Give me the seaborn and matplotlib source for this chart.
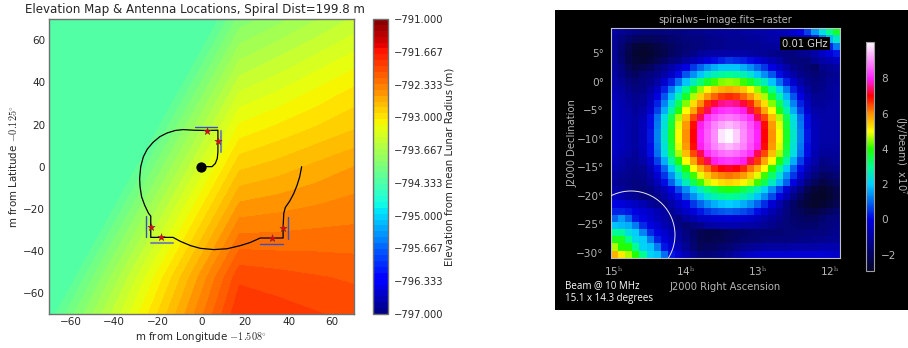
import numpy as np
import pandas as pd
import matplotlib
matplotlib.use("Agg")
import matplotlib.pyplot as plt
from matplotlib.colors import LinearSegmentedColormap
from matplotlib.patches import Ellipse, Rectangle
import seaborn as sns

W, H = 908, 348

# ---- left panel data ----
elev_y = [-70, -52.5, -35, -17.5, 0, 17.5, 35, 52.5, 70]
flat_edge_x = [-69.9, -60.6, -51.25, -41.9, -32.5, -23.1, -13.75, -4.4, 5]
elev_right_x = [17.5, 35, 52.5, 70]
elev_flat = -794.33
elevation_right = [
    [-791.85, -791.90, -791.95, -792.00],
    [-791.99, -792.03, -792.07, -792.10],
    [-792.27, -792.27, -792.26, -792.26],
    [-792.55, -792.50, -792.45, -792.40],
    [-792.83, -792.75, -792.65, -792.56],
    [-793.11, -793.00, -792.90, -792.80],
    [-793.39, -793.27, -793.13, -793.00],
    [-793.67, -793.53, -793.39, -793.25],
    [-793.95, -793.80, -793.65, -793.50],
]
spiral_x = [0, 4.9, 6.4, 7.3, 7.6, 7.6, 2, -3, -8.4, -11.9, -15.7, -19.1, -22.2, -24.8, -26.6, -27.8, -28.3,
            -28.1, -27.4, -26, -24.2, -23.2, -23.2, -13, -9.6, -5, -0.5, 5.7, 11.8, 17.9, 22.5, 27, 37.5,
            37.5, 37.8, 38.5, 40.5, 42.4, 43.9, 45.1, 46]
spiral_y = [0, 0, 1.5, 3.9, 7, 17.3, 17.2, 17.3, 17.6, 17.2, 16, 14.2, 11.5, 8.3, 4.7, 0, -5.6,
            -9.6, -14.3, -18.3, -22.2, -23.5, -33.6, -33.6, -35.5, -37.5, -38.8, -39.4, -39, -37.5, -36, -33.9, -33.9,
            -28.5, -22.2, -19.4, -16.4, -12.7, -8.8, -4.8, 0]
ant_x = [2.5, 7.7, -23.2, -18.3, 32.5, 37.6]
ant_y = [17, 12, -28.5, -33.6, -34, -29]
blue_segs = [([-3, 7.3], [19, 19]), ([-25.5, -25.5], [-23.5, -33.5]),
             ([27, 37.5], [-36.6, -36.6]), ([39.7, 39.7], [-24, -34.5])]
gray_segs = [([9, 9], [7, 17]), ([-23, -13], [-36.2, -36.2])]
elev_ticks = [-797.0, -796.333, -795.667, -795.0, -794.333, -793.667, -793.0, -792.333, -791.667, -791.0]
axis_ticks = [-60, -40, -20, 0, 20, 40, 60]

# ---- right panel data (J2000 raster, units of 10^7 Jy/beam) ----
raster = [
 [-1.0,-1.2,-1.3,-1.4,-1.5,-1.6,-1.6,-1.6,-1.5,-1.5,-1.4,-1.3,-1.3,-1.2,-1.2,-1.1,-1.1,-1.1,-1.0,-1.0,-0.9,-0.9,-0.8,-0.7,-0.6,-0.3,0.0,0.6,1.5,2.3,3.0,3.7],
 [-1.2,-1.5,-1.8,-2.0,-2.1,-2.1,-2.0,-1.9,-1.8,-1.7,-1.6,-1.5,-1.5,-1.4,-1.3,-1.3,-1.2,-1.2,-1.2,-1.1,-1.1,-1.0,-0.9,-0.9,-0.8,-0.7,-0.6,-0.3,0.3,1.2,1.8,2.5],
 [-1.2,-1.7,-2.2,-2.6,-2.7,-2.6,-2.4,-2.2,-2.0,-1.8,-1.7,-1.6,-1.5,-1.4,-1.3,-1.3,-1.2,-1.2,-1.2,-1.2,-1.2,-1.1,-1.1,-1.0,-1.0,-1.0,-0.9,-0.8,-0.6,-0.3,0.3,1.2],
 [-1.2,-1.8,-2.3,-2.7,-2.8,-2.7,-2.5,-2.3,-2.0,-1.8,-1.6,-1.4,-1.1,-1.0,-0.9,-0.9,-0.9,-0.9,-0.9,-1.0,-1.1,-1.2,-1.3,-1.4,-1.5,-1.5,-1.3,-1.2,-0.9,-0.4,-0.1,0.2],
 [-1.2,-1.7,-2.3,-2.6,-2.7,-2.5,-2.2,-1.9,-1.6,-1.4,-1.0,-0.7,-0.4,-0.1,0.1,0.3,0.5,0.4,0.3,0.1,-0.1,-0.4,-0.7,-1.0,-1.4,-1.6,-1.6,-1.6,-1.2,-0.9,-0.7,-0.5],
 [-1.1,-1.5,-2.1,-2.4,-2.2,-2.0,-1.6,-1.3,-0.9,-0.4,0.0,0.5,1.0,1.4,1.7,1.9,1.9,1.9,1.7,1.4,1.0,0.5,0.0,-0.4,-0.9,-1.3,-1.5,-1.7,-1.9,-1.3,-1.2,-1.0],
 [-1.0,-1.4,-1.8,-2.0,-1.7,-1.5,-1.3,-0.9,-0.4,0.1,0.8,1.4,1.9,2.4,2.7,2.9,3.0,2.9,2.7,2.4,1.9,1.4,0.8,0.1,-0.4,-0.9,-1.3,-1.5,-1.7,-1.5,-1.3,-1.2],
 [-0.9,-1.2,-1.5,-1.7,-1.5,-1.3,-0.9,-0.3,0.3,1.1,1.9,2.6,3.2,3.7,4.1,4.4,4.5,4.4,4.1,3.7,3.2,2.6,1.9,1.1,0.3,-0.3,-0.9,-1.3,-1.5,-1.4,-1.2,-1.1],
 [-0.7,-1.0,-1.3,-1.5,-1.4,-1.0,-0.4,0.3,1.2,2.1,3.0,3.8,4.5,5.1,5.5,5.7,5.8,5.7,5.5,5.1,4.5,3.8,3.0,2.1,1.2,0.3,-0.4,-1.0,-1.4,-1.3,-1.1,-1.0],
 [-0.6,-0.9,-1.1,-1.3,-1.2,-0.7,0.0,0.8,1.8,2.8,3.7,4.6,5.4,5.9,6.3,6.6,6.7,6.6,6.3,5.9,5.4,4.6,3.7,2.8,1.8,0.8,0.0,-0.7,-1.2,-1.2,-1.1,-1.0],
 [-0.5,-0.8,-1.0,-1.2,-1.1,-0.5,0.3,1.3,2.3,3.4,4.4,5.3,6.0,6.7,7.2,7.5,7.6,7.5,7.2,6.7,6.0,5.3,4.4,3.4,2.3,1.3,0.3,-0.5,-1.1,-1.1,-1.0,-0.9],
 [-0.5,-0.7,-0.9,-1.1,-0.9,-0.3,0.6,1.7,2.8,3.9,5.0,5.8,6.6,7.3,7.9,8.1,8.2,8.1,7.9,7.3,6.6,5.8,5.0,3.9,2.8,1.7,0.6,-0.3,-0.9,-1.0,-0.9,-0.9],
 [-0.4,-0.7,-0.8,-1.0,-0.7,0.1,1.1,2.3,3.4,4.6,5.6,6.5,7.3,8.1,8.4,8.7,8.8,8.7,8.4,8.1,7.3,6.5,5.6,4.6,3.4,2.3,1.1,0.1,-0.7,-0.9,-0.9,-0.9],
 [-0.4,-0.6,-0.8,-1.0,-0.6,0.1,1.2,2.4,3.6,4.9,5.9,6.9,7.9,8.4,8.9,9.2,9.4,9.2,8.9,8.4,7.9,6.9,5.9,4.9,3.6,2.4,1.2,0.1,-0.6,-0.9,-0.9,-0.9],
 [-0.4,-0.6,-0.8,-1.0,-0.6,0.2,1.3,2.5,3.7,5.0,6.0,7.0,8.0,8.5,9.0,9.8,10.0,9.6,9.0,8.5,8.0,7.0,6.0,5.0,3.7,2.5,1.3,0.2,-0.6,-0.9,-0.9,-0.9],
 [-0.4,-0.6,-0.8,-1.0,-0.6,0.2,1.3,2.5,3.7,5.0,6.0,7.0,8.0,8.5,9.0,9.8,10.0,9.6,9.0,8.5,8.0,7.0,6.0,5.0,3.7,2.5,1.3,0.2,-0.6,-0.9,-0.9,-0.9],
 [-0.4,-0.6,-0.8,-1.0,-0.6,0.1,1.2,2.4,3.6,4.9,5.9,6.9,7.9,8.4,8.9,9.2,9.4,9.2,8.9,8.4,7.9,6.9,5.9,4.9,3.6,2.4,1.2,0.1,-0.6,-1.0,-1.0,-1.0],
 [-0.5,-0.7,-0.9,-1.1,-0.7,0.1,1.1,2.3,3.4,4.6,5.6,6.5,7.3,8.1,8.4,8.7,8.8,8.7,8.4,8.1,7.3,6.5,5.6,4.6,3.4,2.3,1.1,0.1,-0.7,-1.1,-1.1,-1.1],
 [-0.6,-0.9,-1.1,-1.2,-0.9,-0.3,0.6,1.7,2.8,3.9,5.0,5.8,6.6,7.3,7.9,8.1,8.2,8.1,7.9,7.3,6.6,5.8,5.0,3.9,2.8,1.7,0.6,-0.3,-0.9,-1.4,-1.3,-1.2],
 [-0.8,-1.0,-1.2,-1.3,-1.2,-0.6,0.1,1.0,2.0,3.0,4.0,5.0,5.7,6.2,6.7,7.0,7.1,7.0,6.7,6.2,5.7,5.0,4.0,3.0,2.0,1.0,0.1,-0.6,-1.2,-1.6,-1.5,-1.4],
 [-1.0,-1.2,-1.3,-1.4,-1.3,-0.9,-0.2,0.5,1.4,2.4,3.3,4.1,4.9,5.5,5.9,6.1,6.2,6.1,5.9,5.5,4.9,4.1,3.3,2.4,1.4,0.5,-0.3,-1.0,-1.6,-2.0,-1.9,-1.7],
 [-1.1,-1.3,-1.4,-1.5,-1.4,-1.1,-0.6,0.1,0.9,1.8,2.6,3.4,4.1,4.7,5.1,5.3,5.4,5.3,5.1,4.7,4.1,3.4,2.6,1.8,0.9,0.0,-0.8,-1.5,-2.1,-2.4,-2.2,-2.0],
 [-0.9,-1.1,-1.3,-1.5,-1.6,-1.4,-1.0,-0.6,0.0,0.7,1.4,2.1,2.7,3.2,3.5,3.8,3.9,3.8,3.5,3.2,2.7,2.1,1.4,0.6,-0.2,-0.9,-1.5,-2.2,-2.6,-2.8,-2.6,-2.3],
 [-0.5,-0.7,-1.0,-1.2,-1.5,-1.5,-1.3,-0.9,-0.4,0.1,0.8,1.4,1.9,2.4,2.7,2.9,3.0,2.9,2.7,2.4,1.9,1.4,0.7,0.0,-0.7,-1.4,-2.0,-2.5,-2.8,-2.9,-2.7,-2.4],
 [0.0,-0.1,-0.3,-0.5,-0.7,-1.1,-1.3,-1.3,-0.9,-0.4,0.0,0.5,1.0,1.4,1.7,1.9,2.0,1.9,1.7,1.4,1.0,0.4,-0.2,-0.8,-1.4,-1.9,-2.3,-2.6,-2.8,-2.7,-2.5,-2.2],
 [0.3,0.3,0.2,0.0,-0.2,-0.4,-0.7,-1.0,-1.2,-0.8,-0.4,-0.1,0.2,0.5,0.7,0.8,0.9,0.8,0.7,0.5,0.1,-0.3,-0.7,-1.1,-1.5,-1.9,-2.1,-2.3,-2.4,-2.2,-2.0,-1.8],
 [1.0,1.5,1.0,0.2,0.0,-0.3,-0.6,-0.9,-1.2,-1.5,-1.0,-0.8,-0.5,-0.4,-0.3,-0.3,-0.2,-0.3,-0.3,-0.4,-0.6,-0.9,-1.1,-1.3,-1.6,-1.8,-1.9,-2.0,-2.0,-1.8,-1.6,-1.5],
 [1.9,1.8,1.7,1.2,0.4,0.0,-0.3,-0.7,-1.0,-1.4,-1.7,-1.5,-1.3,-1.0,-0.9,-0.8,-0.8,-0.8,-0.9,-0.9,-1.0,-1.2,-1.3,-1.5,-1.6,-1.7,-1.8,-1.8,-1.8,-1.6,-1.5,-1.4],
 [3.0,2.9,2.3,2.0,1.3,0.4,0.0,-0.3,-0.7,-1.1,-1.5,-1.9,-2.2,-2.3,-2.3,-2.2,-2.1,-2.0,-1.9,-1.8,-1.7,-1.7,-1.7,-1.7,-1.6,-1.6,-1.6,-1.5,-1.5,-1.5,-1.4,-1.3],
 [3.8,3.8,3.0,2.2,2.0,1.2,0.3,-0.1,-0.5,-1.0,-1.4,-1.8,-2.2,-2.3,-2.2,-2.2,-2.0,-1.9,-1.8,-1.7,-1.7,-1.6,-1.5,-1.5,-1.5,-1.5,-1.4,-1.4,-1.3,-1.3,-1.2,-1.2],
 [4.6,4.0,3.9,3.0,2.1,1.9,1.2,0.2,-0.2,-0.7,-1.2,-1.7,-2.1,-2.0,-2.0,-1.8,-1.7,-1.5,-1.3,-1.2,-1.1,-1.0,-1.0,-1.0,-1.0,-0.9,-0.9,-0.9,-0.9,-0.8,-0.8,-0.8],
 [5.7,5.2,4.6,4.0,3.0,2.1,1.9,1.1,0.2,-0.2,-0.7,-1.2,-1.6,-1.7,-1.6,-1.4,-1.2,-0.9,-0.6,-0.4,-0.3,-0.2,-0.2,-0.2,-0.2,-0.2,-0.2,-0.2,-0.2,-0.2,-0.3,-0.4],
]
ra_major = [15, 14, 13, 12]
ra_labels = ["15$^{\\mathrm{h}}$", "14$^{\\mathrm{h}}$", "13$^{\\mathrm{h}}$", "12$^{\\mathrm{h}}$"]
dec_major = [5, 0, -5, -10, -15, -20, -25, -30]
dec_labels = ["5°", "0°", "−5°", "−10°", "−15°", "−20°", "−25°", "−30°"]
raster_ticks = [8, 6, 4, 2, 0, -2]
ra_left, ra_right = 15.046, 11.861
dec_top, dec_bottom = 9.33, -30.9
beam_ra, beam_dec, beam_w, beam_h = 14.764, -26.9, 1.222, 15.4

sns.set_theme(style="white")
plt.rcParams["font.family"] = ["DejaVu Sans"]
plt.rcParams["mathtext.fontset"] = "cm"
plt.rcParams["axes.unicode_minus"] = True


def box(x0, y0, x1, y1):
    return [x0 / W, 1 - y1 / H, (x1 - x0) / W, (y1 - y0) / H]


def ftext(x, y, s, **kw):
    kw.setdefault("ha", "center")
    kw.setdefault("va", "center")
    return fig.text(x / W, 1 - y / H, s, **kw)


fig = plt.figure(figsize=(W / 100, H / 100), dpi=100, facecolor="white")
fig.patches.append(Rectangle((555 / W, 1 - 310 / H), 353 / W, 300 / H, transform=fig.transFigure,
                             facecolor="black", edgecolor="none", zorder=-5))

# ---------- left ----------
frame_c = "#707070"
ink = "#262626"
ax = fig.add_axes(box(48.7, 19.3, 354, 314))
levels = np.linspace(-797, -791, 51)
grid_x = np.array([[-70, edge] + elev_right_x for edge in flat_edge_x])
grid_y = np.array([[y] * (2 + len(elev_right_x)) for y in elev_y])
grid_z = np.array([[elev_flat, elev_flat] + row for row in elevation_right])
cs = ax.contourf(grid_x, grid_y, grid_z, levels=levels, cmap="jet", vmin=-797, vmax=-791)
ax.plot(spiral_x, spiral_y, color="black", lw=0.9, zorder=3)
for sx, sy in blue_segs:
    ax.plot(sx, sy, color="#3a4fc0", lw=1.0, zorder=3)
for sx, sy in gray_segs:
    ax.plot(sx, sy, color="#7c8b98", lw=1.5, zorder=3)
sns.scatterplot(x=ant_x, y=ant_y, ax=ax, marker="*", s=30, color="#f0000f", edgecolor="#703030", linewidth=0.35, zorder=4)
ax.plot([0], [0], "o", color="black", ms=6.4, zorder=5)
ax.set_xlim(-70, 70)
ax.set_ylim(-70, 70)
ax.set_xticks(axis_ticks)
ax.set_yticks(axis_ticks)
ax.tick_params(direction="in", top=True, right=True, left=True, bottom=True, length=3, width=0.6,
               labelsize=7.5, colors=ink, pad=2.5, color="#444444")
for s in ax.spines.values():
    s.set_color(frame_c)
    s.set_linewidth(1.0)

cax = fig.add_axes(box(372.7, 19, 388, 314))
cb = fig.colorbar(cs, cax=cax, ticks=elev_ticks)
cb.ax.set_yticklabels([f"{t:.3f}".replace("-", "−") for t in elev_ticks])
cb.ax.tick_params(direction="in", length=3, width=0.6, labelsize=7.2, colors=ink, pad=4, color="#444444", right=True)
cb.outline.set_edgecolor(frame_c)
cb.outline.set_linewidth(1.0)
ftext(195, 10, "Elevation Map & Antenna Locations, Spiral Dist=199.8 m", fontsize=8.55, color=ink)
ftext(201, 337, "m from Longitude $-1.508^{\\circ}$", fontsize=7.4, color=ink)
ftext(13.5, 167, "m from Latitude $-0.125^{\\circ}$", fontsize=7.4, color=ink, rotation=90)
ftext(449, 167, "Elevation from mean Lunar Radius (m)", fontsize=7.4, color=ink, rotation=90)

# ---------- right ----------
text_c = "#b4b4b4"
raster_cmap = LinearSegmentedColormap.from_list(
    "raster",
    [(0.0, "#05052a"), (2.9 / 12.97, "#0000e0"), (4.9 / 12.97, "#00d0ff"), (5.9 / 12.97, "#00ff90"),
     (6.9 / 12.97, "#20ff00"), (7.9 / 12.97, "#ffff00"), (8.9 / 12.97, "#ff9000"), (9.9 / 12.97, "#ff0000"),
     (10.9 / 12.97, "#ff20ff"), (1.0, "#ffffff")],
)
rax = fig.add_axes(box(610.7, 28.3, 840, 257.7))
rcax = fig.add_axes(box(865.7, 41.7, 874, 270.7))
sns.heatmap(pd.DataFrame(raster), ax=rax, cbar_ax=rcax, cmap=raster_cmap, vmin=-2.9, vmax=10.07,
            xticklabels=False, yticklabels=False, square=False)


def col_of(ra):
    return (ra_left - ra) / (ra_left - ra_right) * 32


def row_of(dec):
    return (dec_top - dec) / (dec_top - dec_bottom) * 32


rax.set_xticks([col_of(v) for v in ra_major])
rax.set_xticklabels(ra_labels)
rax.set_yticks([row_of(v) for v in dec_major])
rax.set_yticklabels(dec_labels)
rax.tick_params(axis="both", direction="in", length=3, width=0.6, color="#d8d8d8", labelcolor=text_c,
                labelsize=7.6, top=True, right=True, bottom=True, left=True, pad=5)
rax.tick_params(axis="y", labelrotation=0)
rax.tick_params(axis="x", labelrotation=0)
for s in rax.spines.values():
    s.set_visible(True)
    s.set_color("#c0c0c0")
    s.set_linewidth(0.8)
rax.add_patch(Ellipse((col_of(beam_ra), row_of(beam_dec)), beam_w / (ra_left - ra_right) * 32,
                      beam_h / (dec_top - dec_bottom) * 32, fill=False, edgecolor="#e8e8f0", lw=0.7, zorder=5))
rax.text(col_of(12.347), row_of(6.63), "0.01 GHz", color="#d8d8d8", fontsize=7.2, ha="center", va="center",
         bbox=dict(facecolor="black", edgecolor="none", pad=1.2), zorder=6)

rcb = rax.collections[0].colorbar
rcb.set_ticks(raster_ticks)
rcb.set_ticklabels([str(t).replace("-", "−") for t in raster_ticks])
rcb.ax.tick_params(direction="in", length=2, width=0.5, color="#c0c0c0", labelcolor=text_c, labelsize=7.6, pad=5, right=True)
rcb.outline.set_visible(True)
rcb.outline.set_edgecolor("#a0a0a0")
rcb.outline.set_linewidth(0.8)

ftext(725, 20, "spiralws−image.fits−raster", color=text_c, fontsize=7.0)
ftext(725, 286.7, "J2000 Right Ascension", color=text_c, fontsize=7.2)
ftext(572.7, 143, "J2000 Declination", color=text_c, fontsize=7.2, rotation=90)
ftext(900.5, 156, "(Jy/beam)  x10$^{7}$", color=text_c, fontsize=7.2, rotation=-90)
ftext(565, 285.7, "Beam @ 10 MHz", color="white", fontsize=7.0, ha="left", family="Open Sans")
ftext(565, 299, "15.1 x 14.3 degrees", color="white", fontsize=7.0, ha="left", family="Open Sans")

fig.savefig("out.png", dpi=100, facecolor="white")
